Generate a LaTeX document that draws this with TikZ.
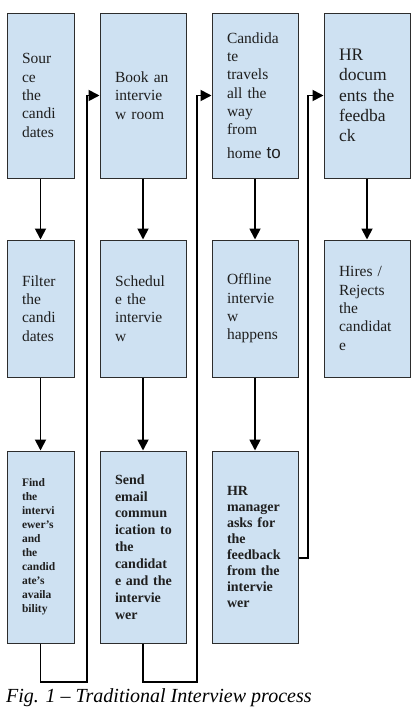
\documentclass[tikz,border=0pt]{standalone}
\usepackage{fontspec}
\setmainfont{Liberation Serif}
\newfontfamily\tofont{Liberation Sans}
\usetikzlibrary{positioning,arrows.meta}
\definecolor{boxblue}{RGB}{206,225,242}
\definecolor{boxline}{RGB}{45,45,45}

\begin{document}
\begin{tikzpicture}[x=1pt,y=1pt,
  stage/.style={draw=boxline, line width=1pt, fill=boxblue, inner sep=0pt,
    minimum width=86pt, text width=56pt, align=left, text=black!88,
    font=\fontsize{15.5}{18.3}\selectfont},
  narrow/.style={minimum width=67pt, text width=37pt},
  rowone/.style={minimum height=165pt},
  rowtwo/.style={minimum height=137pt},
  rowthree/.style={minimum height=192pt},
  flow/.style={line width=1.8pt, -{Triangle[length=11pt,width=11pt]}},
  link/.style={line width=1.8pt}]
  \useasboundingbox (0,0) rectangle (413,-707);

  % First row of steps
  \node[stage, rowone, narrow] (source) at (40.5,-95.5) {Sour\\ce\\the\\candi\\dates};
  \node[stage, rowone, right=25pt of source] (book) {Book~an\\intervie\\w~room};
  \node[stage, rowone, right=25pt of book] (travel) {Candida\\te\\travels\\all~the\\way\\from\\[5pt]home~{\tofont\fontsize{17}{18}\selectfont to}};
  \node[stage, rowone, right=25pt of travel, font=\fontsize{17.5}{20.3}\selectfont] (docs) {HR\\docum\\ents~the\\feedba\\ck};

  % Second row
  \node[stage, rowtwo, narrow, below=61pt of source] (filter) {Filter\\the\\candi\\dates};
  \node[stage, rowtwo, below=61pt of book] (schedule) {Schedul\\e~the\\intervie\\w};
  \node[stage, rowtwo, below=61pt of travel] (offline) {Offline\\intervie\\w\\happens};
  \node[stage, rowtwo, below=61pt of docs] (hires) {Hires~/\\Rejects\\the\\candidat\\e};

  % Third row (bold text)
  \node[stage, rowthree, narrow, below=73pt of filter, font=\bfseries\fontsize{11.5}{14}\selectfont] (find) {Find\\the\\intervi\\ewer's\\and\\the\\candid\\ate's\\availa\\bility};
  \node[stage, rowthree, below=73pt of schedule, font=\bfseries\fontsize{14}{16.9}\selectfont] (mail) {Send\\email\\commun\\ication~to\\the\\candidat\\e~and~the\\intervie\\wer};
  \node[stage, rowthree, below=73pt of offline, font=\bfseries\fontsize{14}{15.9}\selectfont] (ask) {HR\\manager\\asks~for\\the\\feedback\\from~the\\intervie\\wer};

  % Down arrows inside each column
  \draw[flow] (source) -- (filter);
  \draw[flow] (filter) -- (find);
  \draw[flow] (book) -- (schedule);
  \draw[flow] (schedule) -- (mail);
  \draw[flow] (travel) -- (offline);
  \draw[flow] (offline) -- (ask);
  \draw[flow] (docs) -- (hires);

  % Return lines to the top of the next column
  \coordinate (lane1) at (87,-682);
  \coordinate (lane2) at (197,-682);
  \coordinate (lane3) at (308,-558);
  \draw[flow] (find.south) |- (lane1) |- (book.west);
  \draw[flow] (mail.south) |- (lane2) |- (travel.west);
  \draw[flow] (ask.east |- lane3) -- (lane3) |- (docs.west);

  % Caption
  \node[anchor=base west, inner sep=0pt, font=\itshape\fontsize{20}{21}\selectfont] (caption) at (6,-702) {Fig. 1 – Traditional Interview process};
\end{tikzpicture}
\end{document}
